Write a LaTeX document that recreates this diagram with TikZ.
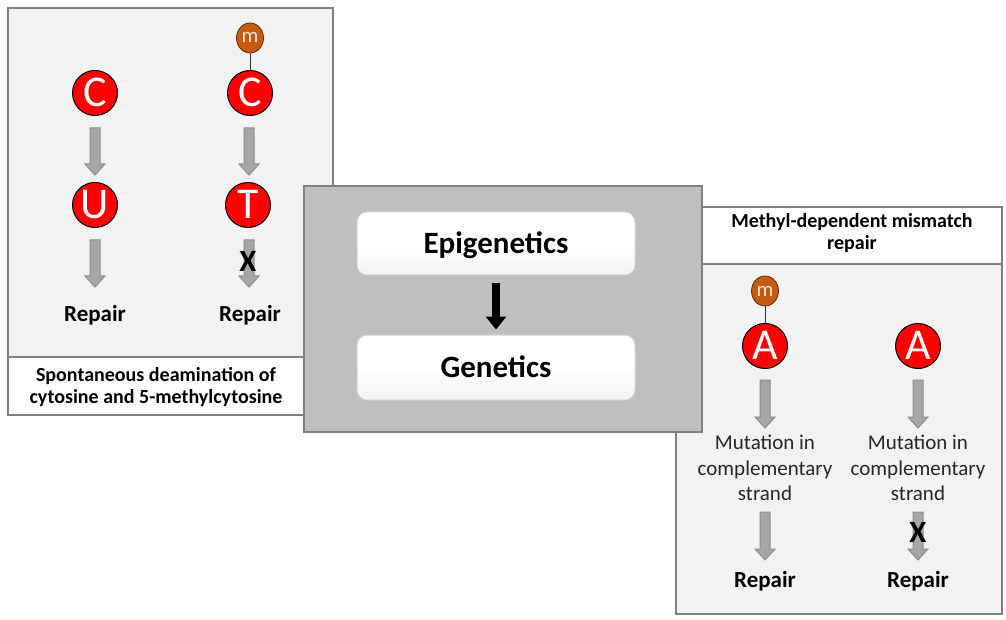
\documentclass[tikz,border=0pt]{standalone}
\usepackage{fontspec}
\setmainfont{Carlito}
\usetikzlibrary{shapes.geometric,arrows.meta}
\definecolor{panelbg}{HTML}{F2F2F2}
\definecolor{panelline}{HTML}{808080}
\definecolor{centerbg}{HTML}{BFBFBF}
\definecolor{arrowfill}{HTML}{A6A6A6}
\definecolor{arrowline}{HTML}{8C8C8C}
\definecolor{mfill}{HTML}{C55A11}
\definecolor{mline}{HTML}{5A2A08}
\definecolor{mtext}{HTML}{F8E4D4}
\definecolor{basered}{HTML}{FF0000}
\tikzset{
  panel/.style={fill=panelbg, draw=panelline, line width=2pt},
  captionbox/.style={fill=white, draw=panelline, line width=2pt},
  centerbox/.style={fill=centerbg, draw=panelline, line width=2pt},
  whitebox/.style={rounded corners=10pt, draw=gray!35, line width=1pt,
    top color=white, bottom color=gray!10, middle color=white,
    minimum width=278pt, inner sep=0pt,
    font=\fontsize{31}{31}\selectfont\bfseries, text height=20pt, text depth=0pt},
  blackarr/.style={line width=8pt, -{Triangle[width=20pt,length=13pt]}, shorten <=7pt, shorten >=5pt},
  basenode/.style={circle, fill=basered, draw=black, line width=1pt, minimum size=45pt, inner sep=0pt,
    text=white, font=\fontsize{44}{44}\selectfont, text height=27pt, text depth=0pt},
  mnode/.style={ellipse, fill=mfill, draw=mline, line width=0.8pt, minimum width=27pt, minimum height=30pt,
    inner sep=0pt, text=mtext, font=\fontsize{21}{21}\selectfont, text height=10pt, text depth=0pt},
  mlink/.style={draw=black!80, line width=0.8pt},
  grayarrow/.style={fill=arrowfill, draw=arrowline, line width=1pt, line join=miter},
  repair/.style={font=\fontsize{23}{23}\selectfont\bfseries, anchor=base, inner sep=0pt},
  xmark/.style={font=\fontsize{31}{31}\selectfont\bfseries, text height=20pt, text depth=0pt, inner sep=0pt},
  captiontext/.style={font=\fontsize{20}{22}\selectfont\bfseries, align=center, inner sep=0pt},
  mutation/.style={font=\fontsize{21}{25.5}\selectfont, align=center, inner sep=0pt, text=black!85},
}
\newcommand\grarrow[3]{%
  \draw[grayarrow] ({#1-5},#2) -- ({#1+5},#2) -- ({#1+5},{#3-11}) -- ({#1+10},{#3-11}) -- (#1,#3)
    -- ({#1-10},{#3-11}) -- ({#1-5},{#3-11}) -- cycle;}
\begin{document}
\begin{tikzpicture}[x=1pt,y=-1pt]
\useasboundingbox (0,0) rectangle (1006,620);
\fill[white] (0,0) rectangle (1006,620);

% left panel
\draw[panel] (8,8) rectangle (333,357);
\draw[captionbox] (8,357) rectangle (333,415);
\node[captiontext] (lcap) at (156,387) {Spontaneous deamination of\\cytosine and 5-methylcytosine};

\node[basenode] (c1) at (95,93) {C};
\node[basenode] (c2) at (250,93) {C};
\node[mnode] (m1) at (250,38) {m};
\draw[mlink] (m1) -- (c2);
\node[basenode] (u1) at (95,205) {U};
\node[basenode] (t1) at (248,205) {T};
\grarrow{95}{128}{175}
\grarrow{249}{128}{175}
\grarrow{95}{240}{287}
\grarrow{249}{240}{287}
\node[repair] (rep1) at (95,321) {Repair};
\node[repair] (rep2) at (250,321) {Repair};
\node[xmark] (x1) at (248,262) {X};

% right panel
\draw[panel] (676,264) rectangle (1002,614);
\draw[captionbox] (676,207) rectangle (1002,264);
\node[captiontext] (rcap) at (852,233) {Methyl-dependent mismatch\\repair};

\node[mnode] (m2) at (765,291) {m};
\node[basenode] (a1) at (765,346) {A};
\draw[mlink] (m2) -- (a1);
\node[basenode] (a2) at (918,346) {A};
\grarrow{765}{380}{428}
\grarrow{918}{380}{428}
\node[mutation] (mut1) at (765,468) {Mutation in\\complementary\\strand};
\node[mutation] (mut2) at (918,468) {Mutation in\\complementary\\strand};
\grarrow{765}{512}{560}
\grarrow{918}{512}{560}
\node[repair] (rep3) at (765,587) {Repair};
\node[repair] (rep4) at (918,587) {Repair};
\node[xmark] (x2) at (918,532) {X};

% center box
\draw[centerbox] (304,186) rectangle (702,432);
\node[whitebox, minimum height=63pt] (epi) at (496,243.5) {Epigenetics};
\node[whitebox, minimum height=65pt] (gen) at (496,367.5) {Genetics};
\draw[blackarr] (epi.south) -- (gen.north);
\end{tikzpicture}
\end{document}
